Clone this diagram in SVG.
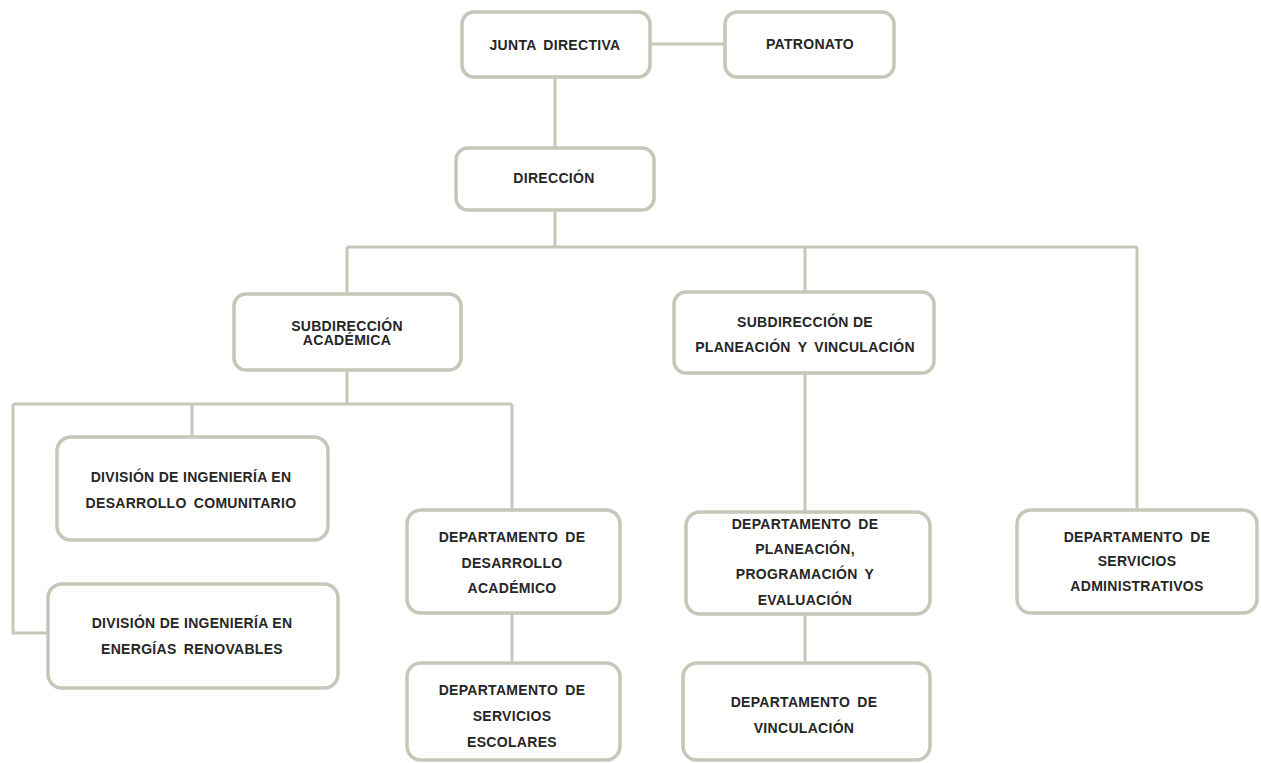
<svg xmlns="http://www.w3.org/2000/svg" width="1261" height="763" viewBox="0 0 1261 763">
<style>
.box{fill:#ffffff;stroke:#c6c7b8;stroke-width:3.5}
.ln{fill:none;stroke:#c6c7b8;stroke-width:3}
.t{font-family:"Liberation Sans",Arial,sans-serif;font-weight:bold;font-size:14px;fill:#262626;text-anchor:middle;letter-spacing:0.3px}
.w{word-spacing:3px}
</style>
<rect width="1261" height="763" fill="#ffffff"/>
<g id="connectors">
<path class="ln" d="M650 44H725"/>
<path class="ln" d="M555 77V148"/>
<path class="ln" d="M555 210V247"/>
<path class="ln" d="M347 247H1137"/>
<path class="ln" d="M347 247V294"/>
<path class="ln" d="M805 247V292"/>
<path class="ln" d="M1137 247V510"/>
<path class="ln" d="M347 370V404"/>
<path class="ln" d="M13 404H512"/>
<path class="ln" d="M13 404V633H48"/>
<path class="ln" d="M192 404V437"/>
<path class="ln" d="M512 404V510"/>
<path class="ln" d="M512 613V663"/>
<path class="ln" d="M805 373V512"/>
<path class="ln" d="M805 614V663"/>
</g>
<g id="junta">
<rect class="box" x="462" y="12" width="188" height="65" rx="12"/>
<text class="t w" x="555" y="50" font-size="14.5">JUNTA DIRECTIVA</text>
</g>
<g id="patronato">
<rect class="box" x="725" y="12" width="169" height="65" rx="12"/>
<text class="t" x="810" y="49">PATRONATO</text>
</g>
<g id="direccion">
<rect class="box" x="456" y="148" width="198" height="62" rx="12"/>
<text class="t" x="554" y="183">DIRECCIÓN</text>
</g>
<g id="subd-academica">
<rect class="box" x="234" y="294" width="227" height="76" rx="12"/>
<text class="t" x="347" y="331">SUBDIRECCIÓN</text>
<text class="t" x="347" y="345">ACADÉMICA</text>
</g>
<g id="subd-planeacion">
<rect class="box" x="674" y="292" width="260" height="81" rx="12"/>
<text class="t" x="805" y="327">SUBDIRECCIÓN DE</text>
<text class="t w" x="805" y="352">PLANEACIÓN Y VINCULACIÓN</text>
</g>
<g id="div-desarrollo">
<rect class="box" x="57" y="437" width="271" height="103" rx="14"/>
<text class="t" x="191" y="482">DIVISIÓN DE INGENIERÍA EN</text>
<text class="t w" x="191" y="508">DESARROLLO COMUNITARIO</text>
</g>
<g id="div-energias">
<rect class="box" x="48" y="584" width="290" height="104" rx="14"/>
<text class="t" x="192" y="628">DIVISIÓN DE INGENIERÍA EN</text>
<text class="t w" x="192" y="654">ENERGÍAS RENOVABLES</text>
</g>
<g id="depto-desarrollo-academico">
<rect class="box" x="407" y="510" width="213" height="103" rx="14"/>
<text class="t w" x="512" y="542">DEPARTAMENTO DE</text>
<text class="t" x="512" y="568">DESARROLLO</text>
<text class="t" x="512" y="593">ACADÉMICO</text>
</g>
<g id="depto-servicios-escolares">
<rect class="box" x="407" y="663" width="213" height="97" rx="14"/>
<text class="t w" x="512" y="695">DEPARTAMENTO DE</text>
<text class="t" x="512" y="721">SERVICIOS</text>
<text class="t" x="512" y="747">ESCOLARES</text>
</g>
<g id="depto-planeacion">
<rect class="box" x="686" y="512" width="244" height="102" rx="14"/>
<text class="t w" x="805" y="529">DEPARTAMENTO DE</text>
<text class="t" x="805" y="554">PLANEACIÓN,</text>
<text class="t w" x="805" y="579">PROGRAMACIÓN Y</text>
<text class="t" x="805" y="605">EVALUACIÓN</text>
</g>
<g id="depto-vinculacion">
<rect class="box" x="683" y="663" width="247" height="97" rx="14"/>
<text class="t w" x="804" y="707">DEPARTAMENTO DE</text>
<text class="t" x="804" y="733">VINCULACIÓN</text>
</g>
<g id="depto-servicios-administrativos">
<rect class="box" x="1017" y="510" width="240" height="103" rx="14"/>
<text class="t w" x="1137" y="542">DEPARTAMENTO DE</text>
<text class="t" x="1137" y="566">SERVICIOS</text>
<text class="t" x="1137" y="591">ADMINISTRATIVOS</text>
</g>
</svg>
